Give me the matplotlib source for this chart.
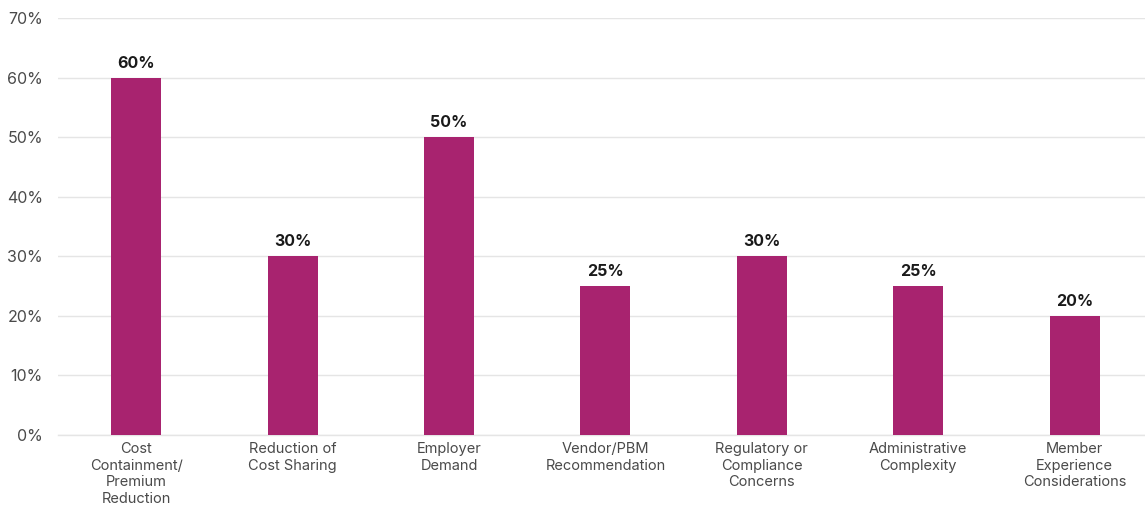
import matplotlib
matplotlib.use("Agg")
import matplotlib.pyplot as plt
from matplotlib.ticker import FuncFormatter

# data
categories = [
    "Cost\nContainment/\nPremium\nReduction",
    "Reduction of\nCost Sharing",
    "Employer\nDemand",
    "Vendor/PBM\nRecommendation",
    "Regulatory or\nCompliance\nConcerns",
    "Administrative\nComplexity",
    "Member\nExperience\nConsiderations",
]
values = [60, 30, 50, 25, 30, 25, 20]
y_ticks = [0, 10, 20, 30, 40, 50, 60, 70]

BAR_COLOR = "#A8236F"
GRID_COLOR = "#E5E5E5"
TEXT_COLOR = "#4A4A4A"

plt.rcParams["font.family"] = ["Inter", "DejaVu Sans"]

fig = plt.figure(figsize=(11.45, 5.08), dpi=100)
ax = fig.add_axes([0.0507, 0.1437, 0.9493, 0.8209])

x = range(len(categories))
bars = ax.bar(x, values, width=0.32, color=BAR_COLOR, zorder=3)

for b, v in zip(bars, values):
    ax.annotate(f"{v}%", (b.get_x() + b.get_width() / 2, v),
                xytext=(0, 5), textcoords="offset points",
                ha="center", va="bottom", fontsize=11.5,
                fontweight="bold", color="#1A1A1A")

# chart runs slightly past the right edge in the original
ax.set_xlim(-0.5, len(categories) - 0.55)
ax.set_ylim(0, 70)
ax.set_yticks(y_ticks)
ax.yaxis.set_major_formatter(FuncFormatter(lambda v, p: f"{v:.0f}%"))
ax.set_xticks(list(x))
ax.set_xticklabels(categories, fontsize=10.5, color=TEXT_COLOR, linespacing=1.25)

ax.tick_params(axis="y", length=0, pad=11, labelsize=11.5, labelcolor=TEXT_COLOR)
ax.tick_params(axis="x", length=0, pad=5)

ax.grid(axis="y", color=GRID_COLOR, linewidth=1, zorder=0)
for s in ["top", "right", "left"]:
    ax.spines[s].set_visible(False)
ax.spines["bottom"].set_color(GRID_COLOR)
ax.spines["bottom"].set_linewidth(1)

fig.savefig("out.png", dpi=100)
plt.close(fig)
